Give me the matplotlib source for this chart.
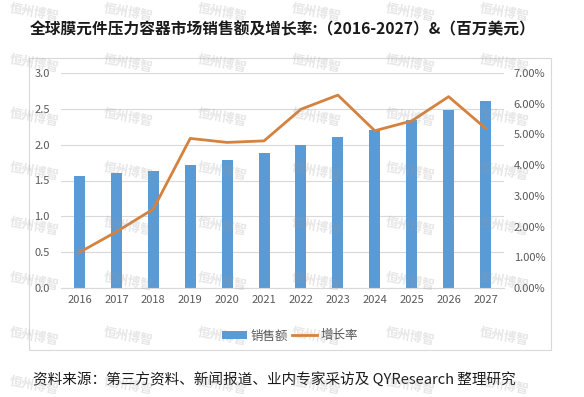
import matplotlib
matplotlib.use("Agg")
import matplotlib.pyplot as plt
from matplotlib.patches import Rectangle
from matplotlib.ticker import FuncFormatter

plt.rcParams['font.family'] = ['Noto Sans CJK SC', 'DejaVu Sans']

years = ['2016', '2017', '2018', '2019', '2020', '2021',
         '2022', '2023', '2024', '2025', '2026', '2027']
sales = [1.56, 1.60, 1.63, 1.72, 1.79, 1.88, 1.99, 2.11, 2.21, 2.35, 2.49, 2.61]
growth = [1.16, 1.83, 2.57, 4.87, 4.74, 4.79, 5.82, 6.28, 5.12, 5.44, 6.23, 5.20]  # %

title = '全球膜元件压力容器市场销售额及增长率:（2016-2027）&（百万美元）'
source = '资料来源：第三方资料、新闻报道、业内专家采访及 QYResearch 整理研究'

bar_color = '#5B9BD5'
line_color = '#D4823E'
grid_color = '#D9D9D9'
text_color = '#595959'

fig = plt.figure(figsize=(5.84, 3.97), dpi=100)

# outer chart frame
fig.patches.append(Rectangle((29 / 584, 1 - 350 / 397), 522 / 584, 292 / 397,
                             transform=fig.transFigure, fill=False,
                             edgecolor=grid_color, linewidth=0.8))

ax = fig.add_axes([61 / 584, 1 - 288 / 397, 443 / 584, 215 / 397])
x = range(len(years))
ax.bar(x, sales, width=0.3, color=bar_color, label='销售额', zorder=2)
ax.set_ylim(0, 3.0)
ax.set_yticks([0, 0.5, 1.0, 1.5, 2.0, 2.5, 3.0])
ax.yaxis.set_major_formatter(FuncFormatter(lambda v, p: f'{v:.1f}'))
ax.set_xlim(-0.5, len(years) - 0.5)
ax.set_xticks(list(x))
ax.set_xticklabels(years)
ax.grid(axis='y', color=grid_color, linewidth=0.8, zorder=0)
for s in ['top', 'left', 'right']:
    ax.spines[s].set_visible(False)
ax.spines['bottom'].set_color(grid_color)
ax.tick_params(length=0, labelsize=8, colors=text_color)
ax.tick_params(axis='x', pad=5)
ax.tick_params(axis='y', pad=8)

ax2 = ax.twinx()
ax2.plot(x, growth, color=line_color, linewidth=2, label='增长率', zorder=3)
ax2.set_ylim(0, 7)
ax2.set_yticks(range(8))
ax2.yaxis.set_major_formatter(FuncFormatter(lambda v, p: f'{v:.2f}%'))
for s in ['top', 'left', 'right', 'bottom']:
    ax2.spines[s].set_visible(False)
ax2.tick_params(length=0, labelsize=8, colors=text_color, pad=7)

h1, l1 = ax.get_legend_handles_labels()
h2, l2 = ax2.get_legend_handles_labels()
fig.legend(h1 + h2, l1 + l2, loc='center', bbox_to_anchor=(290 / 584, 1 - 336 / 397),
           ncol=2, frameon=False, fontsize=9, handlelength=2.0, handleheight=0.6,
           columnspacing=0.3, handletextpad=0.3, labelcolor=text_color)

fig.text(30 / 584, 1 - 29 / 397, title, fontsize=11.3, fontweight='bold',
         ha='left', va='center', color='#1a1a1a')
fig.text(33 / 584, 1 - 379 / 397, source, fontsize=10.5, ha='left', va='center',
         color='#1a1a1a')

# faint watermark grid
for wy in [13, 64, 118, 172, 227, 282, 337, 386]:
    for wx in [34, 128, 222, 316, 410, 504]:
        fig.text(wx / 584, 1 - wy / 397, '恒州博智', fontsize=9, fontweight='bold',
                 style='italic', color='#9a9a9a', alpha=0.25, rotation=-10,
                 ha='center', va='center')

fig.savefig('out.png', dpi=100)
